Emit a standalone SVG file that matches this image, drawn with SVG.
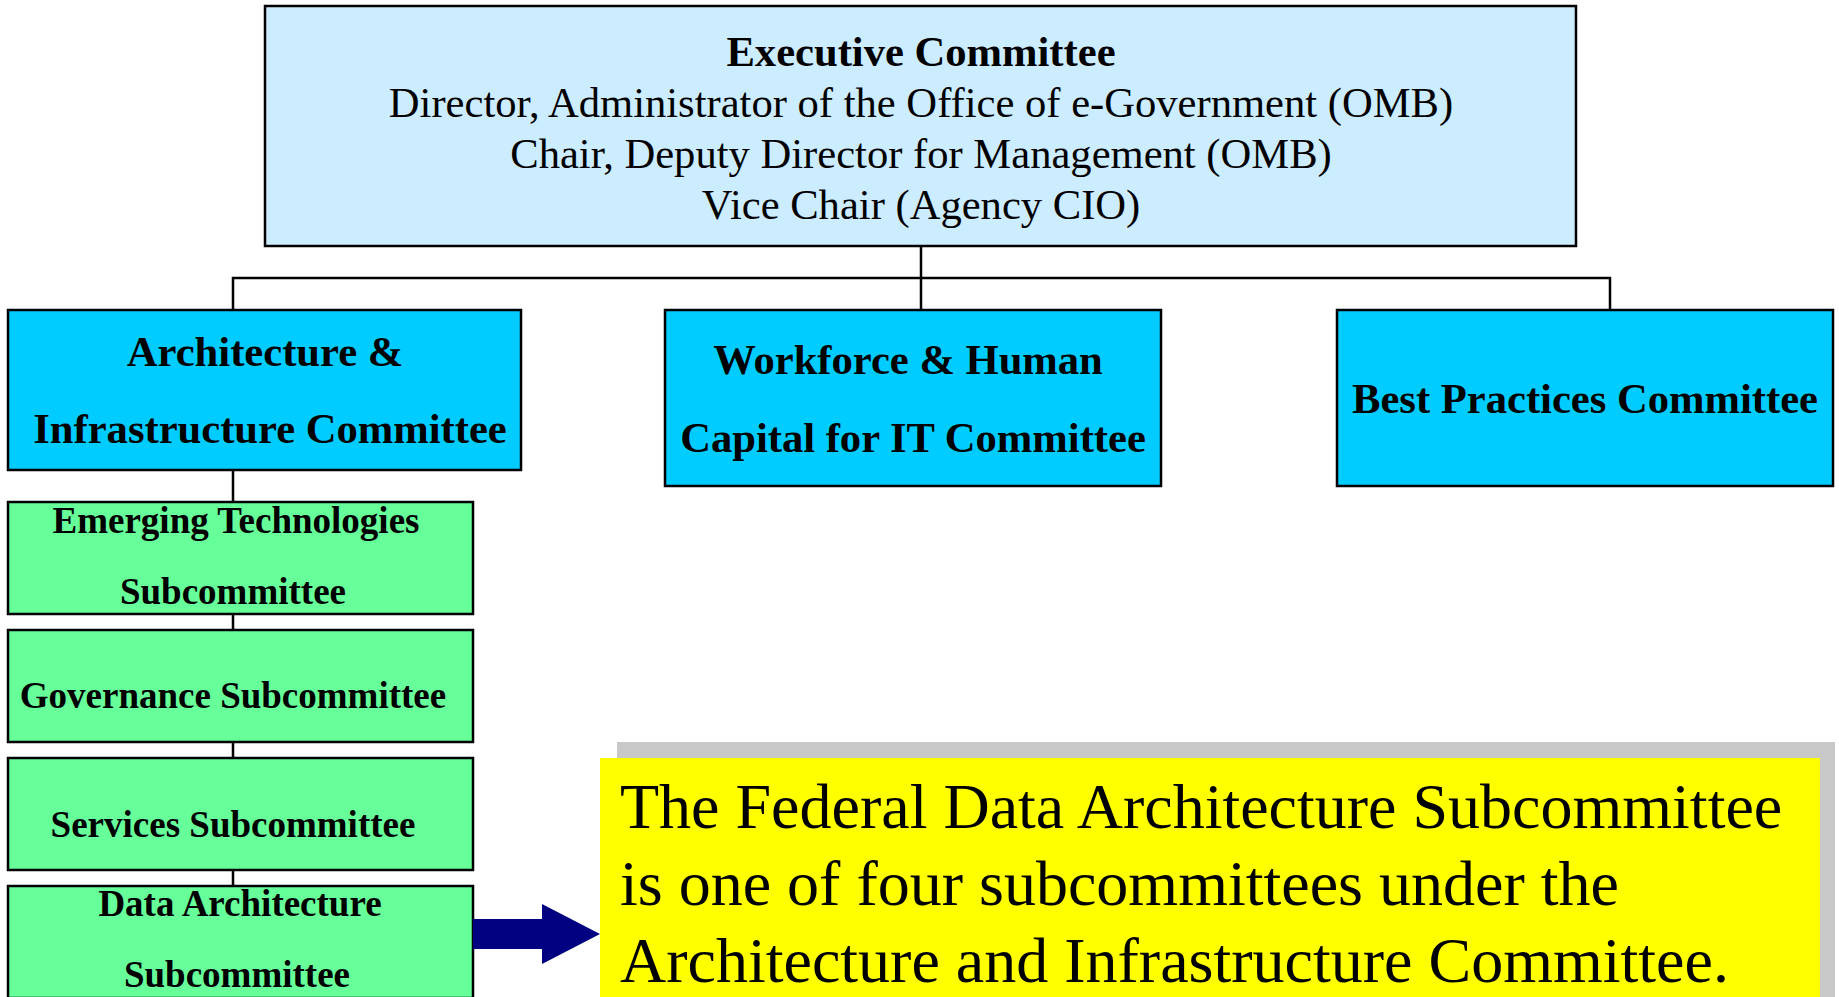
<svg xmlns="http://www.w3.org/2000/svg" width="1839" height="997" viewBox="0 0 1839 997">
<style>
.box{stroke:#000;stroke-width:2.5}
.exec{fill:#CCECFF}
.com{fill:#00CCFF}
.sub{fill:#66FF99}
.t{font-family:"Liberation Serif","Times New Roman",serif;fill:#000;text-anchor:middle}
.b{font-weight:bold}
.big{font-size:42.6px}
.mid{font-size:37px}
.note{font-family:"Liberation Serif","Times New Roman",serif;font-size:64px;fill:#000}
.conn{stroke:#000;stroke-width:2.5;fill:none}
</style>
<rect width="1839" height="997" fill="#fff"/>
<g id="connectors">
<polyline class="conn" points="921,246 921,309"/>
<polyline class="conn" points="233,309 233,278 1610,278 1610,309"/>
<polyline class="conn" points="233,470 233,886"/>
</g>
<g id="executive">
<rect class="box exec" x="265" y="6" width="1311" height="240"/>
<text class="t b big" x="921" y="66">Executive Committee</text>
<text class="t big" x="921" y="117">Director, Administrator of the Office of e-Government (OMB)</text>
<text class="t big" x="921" y="168">Chair, Deputy Director for Management (OMB)</text>
<text class="t big" x="921" y="219">Vice Chair (Agency CIO)</text>
</g>
<g id="architecture">
<rect class="box com" x="8" y="310" width="513" height="160"/>
<text class="t b big" x="265" y="366">Architecture &amp;</text>
<text class="t b big" x="270" y="443">Infrastructure Committee</text>
</g>
<g id="workforce">
<rect class="box com" x="665" y="310" width="496" height="176"/>
<text class="t b big" x="908" y="374">Workforce &amp; Human</text>
<text class="t b big" x="913" y="452">Capital for IT Committee</text>
</g>
<g id="bestpractices">
<rect class="box com" x="1337" y="310" width="496" height="176"/>
<text class="t b big" x="1585" y="413">Best Practices Committee</text>
</g>
<g id="emerging">
<rect class="box sub" x="8" y="502" width="465" height="112"/>
<text class="t b mid" x="236" y="533">Emerging Technologies</text>
<text class="t b mid" x="233" y="604">Subcommittee</text>
</g>
<g id="governance">
<rect class="box sub" x="8" y="630" width="465" height="112"/>
<text class="t b mid" x="233" y="708">Governance Subcommittee</text>
</g>
<g id="services">
<rect class="box sub" x="8" y="758" width="465" height="112"/>
<text class="t b mid" x="233" y="837">Services Subcommittee</text>
</g>
<g id="dataarch">
<rect class="box sub" x="8" y="886" width="465" height="112"/>
<text class="t b mid" x="240" y="916">Data Architecture</text>
<text class="t b mid" x="237" y="987">Subcommittee</text>
</g>
<g id="arrow">
<polygon points="473,919 542,919 542,904 600,934 542,964 542,949 473,949" fill="#000080"/>
</g>
<g id="note">
<rect x="617" y="742" width="1218" height="260" fill="#C8C8C8"/>
<rect x="600" y="758" width="1220" height="244" fill="#FFFF00"/>
<text class="note" x="620" y="828">The Federal Data Architecture Subcommittee</text>
<text class="note" x="620" y="905">is one of four subcommittees under the</text>
<text class="note" x="620" y="982">Architecture and Infrastructure Committee.</text>
</g>
</svg>
